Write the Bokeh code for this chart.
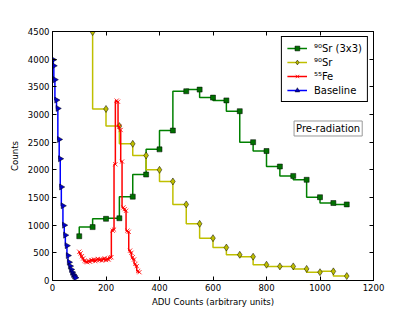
import math
from bokeh.plotting import figure
from bokeh.models import LinearAxis, Range1d, Legend, LegendItem, Label, FixedTicker
from bokeh.embed import file_html
from bokeh.resources import INLINE

# --- data ---
sr3_x = [100, 150, 200, 250, 300, 350, 400, 450, 500, 550, 600, 650, 700, 750,
         800, 850, 900, 950, 1000, 1050, 1100]
sr3_y = [800, 965, 1115, 1125, 1515, 1915, 2370, 2710, 3420, 3450, 3305, 3255,
         3060, 2500, 2340, 2060, 1890, 1820, 1505, 1400, 1375]

sr_x = [150, 200, 250, 300, 350, 400, 450, 500, 550, 600, 650, 700, 750, 800,
        850, 900, 950, 1000, 1050, 1100]
sr_y = [4490, 3100, 2790, 2470, 2260, 2000, 1790, 1375, 1025, 765, 595, 465,
        430, 285, 255, 255, 210, 150, 165, 80]

fe_x = [100, 105, 110, 115, 120, 125, 130, 135, 140, 145, 150, 155, 160, 165,
        170, 175, 180, 185, 190, 195, 200, 205, 210, 215, 220, 225, 230, 235,
        240, 245, 250, 255, 260, 265, 270, 275, 280, 285, 290, 295, 300, 305,
        310, 315, 320, 325]
fe_y = [520, 490, 440, 400, 360, 340, 330, 350, 340, 370, 360, 380, 350, 370,
        390, 370, 380, 360, 380, 400, 370, 390, 380, 410, 420, 900, 920, 2100,
        3250, 3230, 2780, 2720, 2150, 1320, 1290, 1260, 900, 880, 540, 500, 420,
        380, 300, 260, 170, 150]

base_x = [3, 5, 9, 15, 20, 25, 29, 33, 39, 44, 48, 54, 58, 62, 66, 70, 74, 78,
          82, 86]
base_y = [3990, 3880, 3630, 3260, 3110, 2550, 2200, 1690, 1350, 1000, 820, 630,
          450, 330, 260, 200, 150, 110, 80, 50]

x_ticks = [0, 200, 400, 600, 800, 1000, 1200]
y_ticks = [0, 500, 1000, 1500, 2000, 2500, 3000, 3500, 4000, 4500]

labels = ["\u2079\u2070Sr (3x3)", "\u2079\u2070Sr", "\u2075\u2075Fe", "Baseline"]

FONT = "DejaVu Sans"

p = figure(width=415, height=312, x_range=Range1d(0, 1200), y_range=Range1d(0, 4500),
           output_backend="svg", toolbar_location=None,
           min_border_left=52, min_border_right=42, min_border_top=31,
           min_border_bottom=32, x_axis_location=None, y_axis_location=None)
p.grid.visible = False
p.outline_line_color = "black"
p.outline_line_alpha = 1
p.outline_line_width = 1
p.background_fill_color = "white"
p.border_fill_color = "white"


def style_axis(ax, ticks, show_labels):
    ax.ticker = FixedTicker(ticks=ticks)
    ax.major_tick_in = 4
    ax.major_tick_out = 0
    ax.minor_tick_line_color = None
    ax.axis_line_color = "black"
    ax.major_tick_line_color = "black"
    ax.major_label_text_font = FONT
    ax.major_label_text_color = "black"
    ax.axis_label_text_font = FONT
    ax.axis_label_text_font_style = "normal"
    ax.axis_label_text_color = "black"
    ax.axis_label_text_font_size = "8.6px"
    if show_labels:
        ax.major_label_text_font_size = "8.5px"
        ax.major_label_standoff = 3
    else:
        ax.major_label_text_font_size = "1px"
        ax.major_label_text_color = None
        ax.major_label_standoff = 0


xb = LinearAxis(axis_label="ADU Counts (arbitrary units)")
style_axis(xb, x_ticks, True)
xb.axis_label_standoff = 3
p.add_layout(xb, "below")

yl = LinearAxis(axis_label="Counts")
style_axis(yl, y_ticks, True)
yl.major_label_standoff = 3
yl.axis_label_standoff = 5
p.add_layout(yl, "left")

xt = LinearAxis()
style_axis(xt, x_ticks, False)
p.add_layout(xt, "above")

yr = LinearAxis()
style_axis(yr, y_ticks, False)
p.add_layout(yr, "right")

# --- series ---
l1 = p.step(sr3_x, sr3_y, mode="before", line_color="#008000", line_width=1.5)
m1 = p.scatter(sr3_x, sr3_y, marker="square", size=5, fill_color="#007000",
               line_color="black", line_width=0.5)

l2 = p.step(sr_x, sr_y, mode="before", line_color="#bfbf00", line_width=1.5)
m2 = p.scatter(sr_x, sr_y, marker="diamond", size=7, fill_color="#bfbf00",
               line_color="black", line_width=0.5)

l3 = p.step(fe_x, fe_y, mode="before", line_color="#ff0000", line_width=1.5)
m3 = p.scatter(fe_x, fe_y, marker="x", size=6, line_color="#ff0000", line_width=0.8)

l4 = p.step(base_x, base_y, mode="before", line_color="#0000ff", line_width=1.5)
m4 = p.scatter(base_x, base_y, marker="triangle", angle=-math.pi / 2, size=6,
               fill_color="#0000cc", line_color="black", line_width=0.5)

legend = Legend(items=[
    LegendItem(label=labels[0], renderers=[l1, m1]),
    LegendItem(label=labels[1], renderers=[l2, m2]),
    LegendItem(label=labels[2], renderers=[l3, m3]),
    LegendItem(label=labels[3], renderers=[l4, m4]),
], location="top_right")
legend.margin = 5
legend.padding = 5
legend.spacing = 2
legend.label_height = 12
legend.glyph_height = 12
legend.glyph_width = 20
legend.label_standoff = 7
legend.label_text_font = FONT
legend.label_text_font_size = "10px"
legend.label_text_color = "black"
legend.border_line_color = "black"
legend.border_line_alpha = 1
legend.border_line_width = 1
legend.background_fill_alpha = 1
p.add_layout(legend)

note = Label(x=903, y=2747, text="Pre-radiation", text_font=FONT,
             text_font_size="10px", text_baseline="middle", text_align="left",
             text_color="black", border_line_color="#999999",
             background_fill_color="white", padding=2)
p.add_layout(note)

open("out.html", "w").write(file_html(p, INLINE))
